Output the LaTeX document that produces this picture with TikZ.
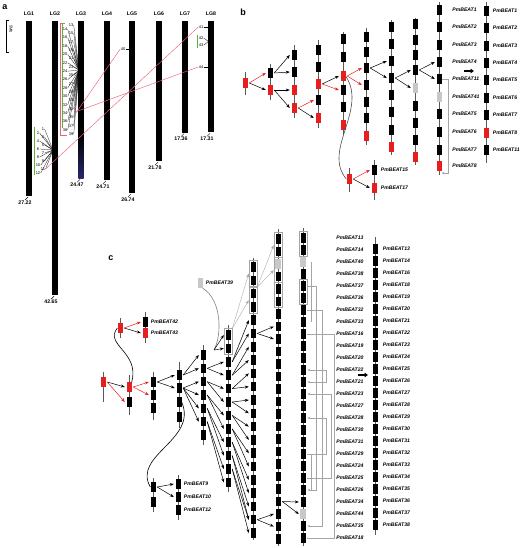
\documentclass[tikz,border=0pt]{standalone}
\usepackage{fontspec}
\setmainfont{Liberation Sans}
\usetikzlibrary{arrows.meta,positioning,fit}
\definecolor{genered}{RGB}{230,30,30}
\definecolor{genegray}{RGB}{200,200,200}
\definecolor{linkpink}{RGB}{235,100,120}
\definecolor{clustergreen}{RGB}{90,180,60}
\definecolor{brgray}{RGB}{165,165,165}

\tikzset{
  gb/.style={fill=black, minimum width=5pt, minimum height=9.5pt, inner sep=0pt},
  gr/.style={gb, fill=genered},
  gg/.style={gb, fill=genegray},
  chr/.style={line width=0.9pt, draw=gray!70!black},
  arr/.style={-{Stealth[length=4pt,width=3pt]}, line width=0.5pt},
  thinarr/.style={arr, draw=brgray, line width=0.35pt},
  gbar/.style={draw=brgray, line width=0.6pt},
  curve/.style={line width=0.6pt},
  gframe/.style={draw=brgray, line width=0.6pt, inner sep=1.3pt},
  link/.style={draw=linkpink, line width=0.45pt},
  lbl/.style={font=\fontsize{5.1}{6}\selectfont\bfseries\itshape, anchor=west, inner sep=0pt},
  num/.style={font=\fontsize{4}{4.5}\selectfont, inner sep=0.3pt},
  lgname/.style={font=\fontsize{5.2}{6}\selectfont\bfseries},
  lglen/.style={font=\fontsize{5.2}{6}\selectfont\bfseries, inner sep=0.5pt},
  panel/.style={font=\fontsize{9}{10}\selectfont\bfseries},
}

% column of genes: name, x, top, bottom, list y/style
\newcommand{\genecol}[5]{%
  \draw[chr] (#2,#3) -- (#2,#4);
  \foreach \yy/\st [count=\k] in {#5} {\node[\st] (#1-\k) at (#2,\yy) {};}
}
% evenly spaced black genes: name, x, top, bottom, first y, step, count
\newcommand{\evencol}[7]{%
  \draw[chr] (#2,#3) -- (#2,#4);
  \foreach \k in {1,...,#7} {\pgfmathsetmacro\yy{#5+(\k-1)*#6}\node[gb] (#1-\k) at (#2,\yy) {};}
}
\newcommand{\fork}[5]{%
  \draw[arr,#4] ([xshift=1.5pt]#1.east) -- ([xshift=-1.5pt]#2.west);
  \draw[arr,#5] ([xshift=1.5pt]#1.east) -- ([xshift=-1.5pt]#3.west);
}
\newcommand{\bfork}[3]{\fork{#1}{#2}{#3}{black}{black}}
\newcommand{\brk}[4]{\draw[gbar,#4] ([xshift=1.5pt]#1.east) -- ++(#3,0) |- ([xshift=1.5pt]#2.east);}

\begin{document}
\begin{tikzpicture}[x=1pt, y=-1pt]
  \useasboundingbox (0,0) rectangle (520,548);

  % ---------------- a ----------------
  \node[panel] at (5,7) {a};
  \foreach \i/\x/\len in {1/29/27.22, 2/55/42.65, 3/81/24.47, 4/107/24.71, 5/132/26.74, 6/159/21.78, 7/185/17.36, 8/211/17.31} {
    \pgfmathsetmacro\yb{21+\len*6.43}
    \node[lgname] (lg\i) at (\x,14) {LG\i};
    \fill (\x-2.7,21) rectangle (\x+2.7,\yb);
    \draw[line width=0.4pt] (\x-1,\yb+1) -- (\x-4,\yb+4) node[lglen, below] (len\i) {\len};
  }
  \shade[top color=black, bottom color={rgb,255:red,40;green,40;blue,110}] (78.3,135) rectangle (83.7,178.3);
  % scale bar
  \draw[line width=0.5pt] (8.5,20) -- (6,20) -- (6,52) -- (8.5,52);
  \node[num, rotate=-90] at (11,29) {5Mb};

  % LG3 cluster
  \coordinate (hub3) at (79,70);
  \foreach \n in {13,...,39} {
    \pgfmathsetmacro\yy{25+(\n-13)*4.2}
    \pgfmathsetmacro\xx{isodd(\n)?71:65}
    \node[num] (n\n) at (\xx,\yy) {\n};
    \draw[line width=0.25pt] (n\n.east) -- (hub3);
  }
  \draw[linkpink, line width=0.5pt] (65,23) -- (60.5,23) -- (60.5,135.5) -- (67,135.5);
  \draw[clustergreen, line width=0.7pt] (62.5,23) -- (62.5,128);

  % LG2 cluster
  \coordinate (hub2) at (53,150);
  \foreach \n in {1,...,12} {
    \pgfmathsetmacro\yy{129+(\n-1)*4}
    \pgfmathsetmacro\xx{isodd(\n)?43:38}
    \node[num] (n\n) at (\xx,\yy) {\n};
    \draw[line width=0.25pt] (n\n.east) -- (hub2);
  }
  \draw[clustergreen, line width=0.7pt] (34.5,127) -- (34.5,175);

  % LG5 and LG8 genes
  \node[num] (n40) at (123,49) {40};
  \draw[line width=0.3pt] (n40.east) -- ++(4,0);
  \node[num] (n41) at (201,27) {41};
  \draw[line width=0.3pt] (n41.east) -- ++(4,0);
  \coordinate (hub8) at (208.5,41.5);
  \node[num] (n42) at (201,38) {42};
  \node[num] (n43) at (201,45) {43};
  \draw[line width=0.3pt] (n42.east) -- (hub8) -- (n43.east);
  \draw[clustergreen, line width=0.7pt] (197.5,35) -- (197.5,48);
  \node[num] (n44) at (201,67) {44};
  \draw[line width=0.3pt] (n44.east) -- ++(4,0);

  % links
  \draw[link] ([xshift=8pt]n34.east) -- (n40.west);
  \draw[link] ([xshift=7pt,yshift=1pt]n34.east) -- (n44.west);
  \draw[link] (n11.east) -- (n41.west);

  % ---------------- b ----------------
  \node[panel] at (243,12) {b};
  \genecol{b1}{245}{72}{95}{83/gr}
  \genecol{b2}{270}{64}{100}{73/gb,90/gr}
  \genecol{b3}{294}{45}{118}{55/gb,72/gb,90/gr,108/gr}
  \genecol{b4}{318}{40}{128}{50/gb,67/gb,84/gr,100/gb,118/gr}
  \genecol{b5}{343}{32}{135}{39/gb,57/gb,76/gr,90/gb,107/gb,125/gr}
  \genecol{b6}{366}{28}{145}{37/gb,52/gb,68/gb,85/gb,102/gb,118/gb,136/gr}
  \genecol{b7}{391}{20}{155}{27/gb,44/gb,61/gb,78/gb,95/gb,112/gb,130/gb,147/gr}
  \genecol{b8}{415}{18}{165}{24/gb,40/gb,55/gb,70/gb,88/gg,106/gb,123/gb,140/gb,157/gr}
  \genecol{b9}{439}{2}{175}{10/gb,27/gb,45/gb,62/gb,79/gb,97/gg,114/gb,132/gb,150/gb,166/gr}
  \genecol{b10}{486}{2}{163}{11/gb,28/gb,46/gb,63/gb,80/gb,98/gb,115/gb,133/gr,150/gb}
  \genecol{b11}{349}{168}{192}{179/gr}
  \genecol{b12}{374}{160}{200}{170/gb,188/gr}

  \foreach \t [count=\k] in {1,2,3,4,11,41,5,6,7,8}
    \node[lbl, right=10.5pt of b9-\k] (lb\t) {PmBEAT\t};
  \foreach \t [count=\k] in {1,2,3,4,5,6,7,8,11}
    \node[lbl, right=4pt of b10-\k] (lbb\t) {PmBEAT\t};
  \node[lbl, right=4pt of b12-1] (lb15) {PmBEAT15};
  \node[lbl, right=4pt of b12-2] (lb17) {PmBEAT17};

  \fork{b1-1}{b2-1}{b2-2}{genered}{black}
  \bfork{b2-1}{b3-1}{b3-2}
  \bfork{b2-2}{b3-3}{b3-4}
  \fork{b3-4}{b4-4}{b4-5}{genered}{black}
  \fork{b4-3}{b5-3}{b5-4}{black}{genered}
  \fork{b5-3}{b6-3}{b6-4}{genered}{genered}
  \bfork{b6-3}{b7-3}{b7-4}
  \bfork{b7-4}{b8-4}{b8-5}
  \bfork{b8-4}{b9-4}{b9-5}
  \fork{b11-1}{b12-1}{b12-2}{genered}{black}
  \draw[curve, draw=gray!60!black] (b5-3.east) .. controls (368,110) and (322,150) .. (b11-1.west);

  \coordinate (b9end) at (441.5,173);
  \draw[gbar, -{Stealth[length=3pt]}] (b9-5.east) -- ++(7,0) |- (b9end);
  \coordinate (bmv1) at (464,71);
  \coordinate (bmv2) at (474,71);
  \draw[line width=1.6pt, -{Triangle[length=3.5pt,width=4.5pt]}] (bmv1) -- (bmv2);

  % ---------------- c ----------------
  \node[panel] at (111,258) {c};
  \genecol{cM}{120}{318}{338}{328/gr}
  \genecol{cN}{145}{312}{343}{322/gb,333/gr}
  \node[lbl, right=3pt of cN-1] (lc42) {PmBEAT42};
  \node[lbl, right=3pt of cN-2] (lc43) {PmBEAT43};
  \fork{cM-1}{cN-1}{cN-2}{genered}{black}

  \genecol{cA}{103}{372}{402}{382/gr}
  \genecol{cB}{129}{375}{415}{387/gr,402/gb}
  \genecol{cC}{153}{372}{420}{382/gb,395/gb,408/gb}
  \genecol{cD}{179}{362}{428}{375/gb,388/gb,402/gb,417/gb}
  \evencol{cE}{203}{345}{445}{355}{13.33}{7}
  \evencol{cF}{228}{325}{492}{335}{13.4}{12}
  \evencol{cG}{253}{258}{540}{267}{13.3}{21}
  \evencol{cH}{278}{229}{546}{239}{12.5}{25}
  \evencol{cI}{303}{228}{546}{238}{12}{26}
  \evencol{cJ}{375}{237}{535}{249}{12}{24}
  \foreach \g in {cH-3,cI-3,cI-24}
    \fill[genegray] (\g.south west) rectangle (\g.north east);

  \node[gframe, fit=(cF-1)(cF-2)] (fF1) {};
  \node[gframe, fit=(cG-1)(cG-2)] (fG1) {};
  \node[gframe, fit=(cG-3)(cG-4)] (fG2) {};
  \node[gframe, fit=(cH-1)(cH-2)] (fH1) {};
  \node[gframe, fit=(cH-3)(cH-4)] (fH2) {};
  \node[gframe, fit=(cH-5)(cH-6)] (fH3) {};
  \node[gframe, fit=(cI-1)(cI-2)] (fI1) {};
  \node[gframe, fit=(cI-5)(cI-6)] (fI2) {};

  \node[gg, minimum height=10pt] (c39) at (200,283) {};
  \node[lbl, right=3pt of c39] (lc39) {PmBEAT39};

  \foreach \t [count=\k] in {13,14,40,38,37,36,32,33,16,19,20,22,21,23,27,28,30,31,29,24,25,26,34,44,35,18}
    \node[lbl, right=30.5pt of cI-\k] (lc\t) {PmBEAT\t};
  \foreach \t [count=\k] in {13,14,16,18,19,20,21,22,23,24,25,26,27,28,29,30,31,32,33,34,35,36,37,38}
    \node[lbl, right=5pt of cJ-\k] (lcc\t) {PmBEAT\t};

  \genecol{cK}{153}{478}{512}{487/gb,502/gb}
  \genecol{cL}{178}{475}{520}{484/gb,497/gb,510/gb}
  \node[lbl, right=3pt of cL-1] (lc9) {PmBEAT9};
  \node[lbl, right=3pt of cL-2] (lc10) {PmBEAT10};
  \node[lbl, right=3pt of cL-3] (lc12) {PmBEAT12};
  \bfork{cK-1}{cL-1}{cL-2}

  % duplications
  \fork{cA-1}{cB-1}{cB-2}{black}{genered}
  \fork{cB-1}{cC-1}{cC-2}{genered}{genered}
  \bfork{cC-1}{cD-1}{cD-2}
  \bfork{cD-1}{cE-1}{cE-2}
  \bfork{cD-2}{cE-3}{cE-4}
  \bfork{cD-2}{cE-5}{cE-6}
  \bfork{cE-2}{cF-3}{cF-4}
  \bfork{cE-3}{cF-5}{cF-6}
  \bfork{cE-4}{cF-7}{cF-8}
  \bfork{cE-5}{cF-9}{cF-10}
  \bfork{cE-6}{cF-11}{cF-12}
  \bfork{cF-3}{cG-5}{cG-6}
  \bfork{cF-4}{cG-7}{cG-8}
  \bfork{cF-5}{cG-9}{cG-10}
  \bfork{cF-6}{cG-11}{cG-12}
  \bfork{cF-7}{cG-13}{cG-14}
  \bfork{cF-8}{cG-15}{cG-16}
  \bfork{cF-9}{cG-17}{cG-18}
  \bfork{cF-10}{cG-19}{cG-20}
  \bfork{cF-11}{cG-20}{cG-21}
  \bfork{cG-6}{cH-8}{cH-9}
  \bfork{cG-20}{cH-23}{cH-24}
  \bfork{cH-22}{cI-23}{cI-24}
  \draw[thinarr] (fF1.north east) -- (fG1.west);
  \draw[thinarr] (fF1.north east) -- (fG2.west);
  \draw[thinarr] (fG2.north east) -- (fH1.west);
  \draw[thinarr] (fG2.north east) -- (fH2.west);

  \draw[curve] (cM-1.west) .. controls (104,345) and (140,352) .. (cB-1.north east);
  \draw[curve] (cD-3.east) .. controls (198,440) and (132,455) .. (cK-1.west);
  \coordinate (c39end) at (214,350);
  \draw[curve, draw=gray] (c39.south east) .. controls (222,300) and (222,335) .. (c39end);
  \draw[arr] (c39end) -- ([xshift=-1.5pt]cF-1.west);
  \draw[arr] (c39end) -- ([xshift=-1.5pt]cF-2.west);

  % tandem brackets
  \brk{cI-5}{cI-22}{9}{-{Stealth[length=2.8pt]}}
  \brk{cI-7}{cI-25}{15}{-{Stealth[length=2.8pt]}}
  \brk{cI-9}{cI-26}{27}{}
  \brk{cI-12}{cI-13}{19}{{Stealth[length=2.8pt]}-{Stealth[length=2.8pt]}}
  \brk{cI-21}{cI-14}{24}{-{Stealth[length=2.8pt]}}
  \brk{cI-19}{cI-16}{19}{-{Stealth[length=2.8pt]}}
  \draw[gbar] ([xshift=6pt]cI-3.east) -- ([xshift=6pt]cI-8.east);
  \draw[gbar] ([xshift=6pt]cI-19.east) -- ([xshift=6pt]cI-22.east);

  \coordinate (cmv1) at (358,375);
  \coordinate (cmv2) at (368,375);
  \draw[line width=1.6pt, -{Triangle[length=3.5pt,width=4.5pt]}] (cmv1) -- (cmv2);
\end{tikzpicture}
\end{document}
